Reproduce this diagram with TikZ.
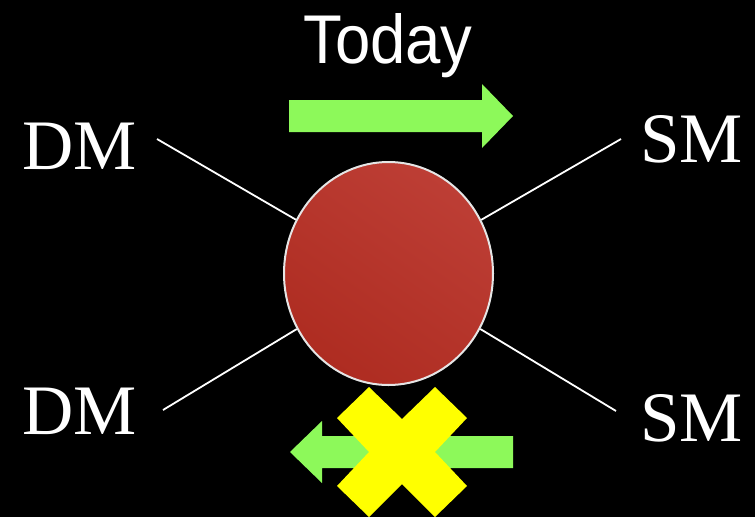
\documentclass[tikz,border=0pt]{standalone}
\usepackage{fontspec}
\setmainfont{Liberation Serif}
\newfontfamily\headfont{Liberation Sans}
\usetikzlibrary{shapes.geometric}

\definecolor{lime}{HTML}{8DF95A}
\definecolor{crossyellow}{HTML}{FFFF00}
\definecolor{blob1}{HTML}{BD3E35}
\definecolor{blob2}{HTML}{AE2C21}

\begin{document}
\begin{tikzpicture}[x=1pt, y=-1pt,
    lbl/.style = {text=white, inner sep=0pt, anchor=base west,
                  font=\fontsize{71}{71}\selectfont},
    el/.style  = {draw=white, line width=1.8pt},
    blob/.style = {ellipse, draw={rgb:white,9;black,1}, line width=2pt,
                   minimum width=209pt, minimum height=223pt, inner sep=0pt,
                   top color=blob1, bottom color=blob2, shading angle=-35},
    arr/.style = {fill=lime, draw=none}
  ]
  \useasboundingbox (0,0) rectangle (755,517);
  \fill[black] (0,0) rectangle (755,517);

  \node[text=white, inner sep=0pt, anchor=base west,
        font=\headfont\fontsize{69}{69}\selectfont] (today) at (303,63)
        {\scalebox{0.92}[1]{Today}};

  % arrows
  \fill[arr] (289,100) -- (482,100) -- (482,84) -- (513,116)
             -- (482,148) -- (482,132) -- (289,132) -- cycle;
  \fill[arr] (513,436) -- (322,436) -- (322,421) -- (290,452)
             -- (322,483) -- (322,468) -- (513,468) -- cycle;

  % the cross over the lower arrow
  \fill[crossyellow] (402,452) ++(0,-33) -- ++(33,-32) -- ++(32,31) -- ++(-32,34)
                -- ++(32,34) -- ++(-32,31) -- ++(-33,-33) -- ++(-33,33)
                -- ++(-32,-31) -- ++(32,-34) -- ++(-32,-34) -- ++(32,-31) -- cycle;

  \node[blob] (body) at (388.5,273.5) {};

  \node[lbl] (dm_1) at (22,169) {DM};
  \node[lbl] (sm_1) at (640,162) {SM};
  \node[lbl] (dm_2) at (22,434) {DM};
  \node[lbl] (sm_2) at (640,441) {SM};

  \coordinate (e_1) at (157,139);
  \coordinate (e_2) at (621,139);
  \coordinate (e_3) at (163,410);
  \coordinate (e_4) at (616,411);

  \path[el]
  (e_1) edge (body)
  (e_2) edge (body)
  (e_3) edge (body)
  (e_4) edge (body)
  ;
\end{tikzpicture}
\end{document}
